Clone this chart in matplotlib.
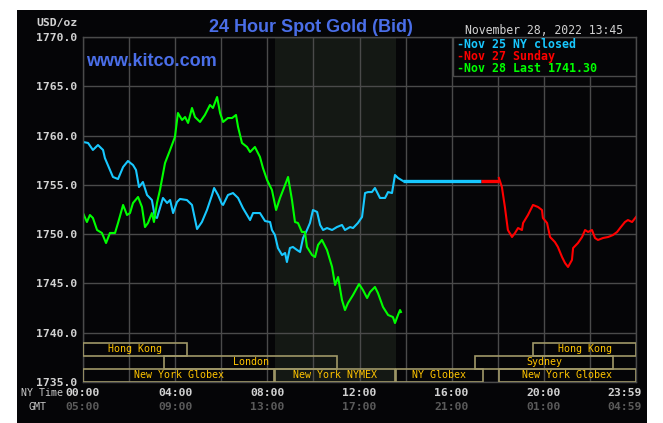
import numpy as np
import matplotlib.pyplot as plt
from matplotlib.patches import Rectangle
from matplotlib.transforms import blended_transform_factory

W, H = 663, 423

# Nov 25 (NY closed) - hours after NY midnight, price in USD/oz
nov25_hours = [0.00, 0.22, 0.43, 0.65, 0.87, 0.95, 1.17, 1.30, 1.52, 1.74, 1.95, 2.17, 2.30, 2.43,
               2.60, 2.78, 2.99, 3.12, 3.21, 3.34, 3.47, 3.65, 3.78, 3.91, 4.08, 4.21, 4.51, 4.73,
               4.95, 5.16, 5.38, 5.60, 5.69, 5.86, 6.03, 6.08, 6.29, 6.51, 6.73, 6.94, 7.25, 7.38,
               7.68, 7.90, 8.12, 8.20, 8.33, 8.46, 8.64, 8.77, 8.85, 8.98, 9.11, 9.29, 9.42, 9.55,
               9.72, 9.85, 9.98, 10.16, 10.29, 10.42, 10.59, 10.81, 11.02, 11.24, 11.37, 11.59,
               11.72, 11.93, 12.11, 12.24, 12.37, 12.54, 12.67, 12.89, 13.11, 13.24, 13.41, 13.54,
               13.67, 13.89]
nov25_price = [1759.35, 1759.25, 1758.54, 1759.04, 1758.54, 1757.72, 1756.51, 1755.80, 1755.59,
               1756.81, 1757.42, 1757.01, 1756.51, 1754.78, 1755.29, 1753.97, 1753.46, 1751.74,
               1751.64, 1752.65, 1753.67, 1753.16, 1753.46, 1752.14, 1753.26, 1753.57, 1753.46,
               1752.96, 1750.52, 1751.23, 1752.45, 1753.97, 1754.68, 1753.97, 1753.06, 1752.96,
               1753.97, 1754.17, 1753.67, 1752.65, 1751.43, 1752.14, 1752.14, 1751.33, 1751.23,
               1750.42, 1749.91, 1748.59, 1747.88, 1748.09, 1747.17, 1748.59, 1748.70, 1748.39,
               1748.19, 1749.61, 1750.42, 1751.13, 1752.45, 1752.25, 1750.93, 1750.42, 1750.62,
               1750.42, 1750.72, 1750.93, 1750.42, 1750.72, 1750.62, 1751.13, 1751.74, 1754.17,
               1754.27, 1754.27, 1754.68, 1753.67, 1753.67, 1754.27, 1754.17, 1756.00, 1755.70,
               1755.39]
nov25_close = 1755.39
nov25_flat_end = 17.27

# Nov 27 (Sunday)
nov27_hours = [18.05, 18.18, 18.31, 18.44, 18.62, 18.75, 18.88, 19.05, 19.10, 19.31, 19.53, 19.75,
               19.92, 19.96, 20.14, 20.27, 20.48, 20.61, 20.79, 20.92, 21.05, 21.22, 21.27, 21.48,
               21.66, 21.79, 21.92, 22.09, 22.22, 22.35, 22.57, 22.79, 23.00, 23.18, 23.31, 23.52,
               23.65, 23.83, 24.00]
nov27_price = [1755.70, 1754.78, 1752.75, 1750.42, 1749.71, 1750.12, 1750.62, 1750.42, 1751.13,
               1751.94, 1752.96, 1752.75, 1752.45, 1751.64, 1751.13, 1749.71, 1749.20, 1748.70,
               1747.68, 1747.07, 1746.67, 1747.38, 1748.59, 1749.10, 1749.71, 1750.42, 1750.22,
               1750.42, 1749.61, 1749.41, 1749.61, 1749.71, 1749.91, 1750.22, 1750.62, 1751.23,
               1751.43, 1751.23, 1751.74]

# Nov 28 (today)
nov28_hours = [0.00, 0.17, 0.30, 0.43, 0.61, 0.82, 1.00, 1.17, 1.39, 1.52, 1.74, 1.91, 2.04, 2.17,
               2.39, 2.56, 2.69, 2.82, 2.99, 3.08, 3.21, 3.34, 3.56, 3.78, 3.99, 4.12, 4.30, 4.43,
               4.56, 4.73, 4.86, 5.08, 5.29, 5.51, 5.64, 5.82, 5.95, 6.08, 6.29, 6.47, 6.64, 6.73,
               6.90, 7.12, 7.25, 7.46, 7.68, 7.81, 7.99, 8.20, 8.38, 8.55, 8.77, 8.90, 9.07, 9.20,
               9.33, 9.50, 9.63, 9.72, 9.94, 10.07, 10.20, 10.37, 10.59, 10.81, 10.94, 11.07, 11.24,
               11.37, 11.50, 11.72, 11.98, 12.15, 12.33, 12.46, 12.67, 12.80, 13.02, 13.24, 13.45,
               13.54, 13.67, 13.76, 13.80]
nov28_price = [1752.14, 1751.23, 1751.94, 1751.64, 1750.42, 1750.12, 1749.10, 1750.12, 1750.12,
               1751.13, 1752.96, 1751.94, 1752.14, 1753.16, 1753.77, 1752.75, 1750.72, 1751.13,
               1752.14, 1751.23, 1753.16, 1754.48, 1757.22, 1758.54, 1759.86, 1762.29, 1761.58,
               1761.88, 1761.28, 1762.80, 1761.88, 1761.38, 1762.09, 1763.10, 1762.80, 1763.91,
               1762.29, 1761.38, 1761.78, 1761.78, 1762.09, 1760.87, 1759.25, 1758.84, 1758.33,
               1758.84, 1757.83, 1756.71, 1755.49, 1754.48, 1752.45, 1753.67, 1754.99, 1755.80,
               1753.46, 1751.23, 1751.13, 1750.22, 1750.22, 1748.70, 1747.88, 1747.68, 1748.90,
               1749.41, 1748.39, 1746.67, 1744.84, 1745.65, 1743.32, 1742.30, 1743.01, 1743.83,
               1744.94, 1744.33, 1743.52, 1744.13, 1744.64, 1744.03, 1742.61, 1741.80, 1741.59,
               1740.98, 1741.80, 1742.30, 1742.10]

price_ticks = [1735, 1740, 1745, 1750, 1755, 1760, 1765, 1770]
ny_labels = ["00:00", "04:00", "08:00", "12:00", "16:00", "20:00", "23:59"]
gmt_labels = ["05:00", "09:00", "13:00", "17:00", "21:00", "01:00", "04:59"]
label_hours = [0, 4, 8, 12, 16, 20, 23.5]

legend_labels = ["-Nov 25 NY closed", "-Nov 27 Sunday", "-Nov 28 Last 1741.30"]

# trading sessions: name, start hour, end hour, row (0 = bottom)
sessions = [
    ("New York Globex", 0.0, 8.29, 0),
    ("New York NYMEX", 8.33, 13.54, 0),
    ("NY Globex", 13.58, 17.36, 0),
    ("New York Globex", 18.05, 24.0, 0),
    ("London", 3.52, 11.02, 1),
    ("Sydney", 17.01, 23.0, 1),
    ("Hong Kong", 0.0, 4.51, 2),
    ("Hong Kong", 19.53, 24.0, 2),
]
nymex_span = (8.33, 13.58)

bg = '#050507'
grid_c = '#4a4a4a'
blue = '#18c8ff'
red = '#ff0000'
green = '#00ff00'
mono = 'DejaVu Sans Mono'

fig = plt.figure(figsize=(W / 100, H / 100), dpi=100, facecolor='white')
fig.patches.append(Rectangle((17 / W, 0), 630 / W, 1 - 10 / H, transform=fig.transFigure,
                             facecolor=bg, edgecolor='none', zorder=-1))
ax = fig.add_axes([83 / W, 1 - 382 / H, 553 / W, 345 / H])
ax.set_facecolor(bg)
ax.set_xlim(0, 24)
ax.set_ylim(1735, 1770)

for s in ax.spines.values():
    s.set_color(grid_c)
    s.set_linewidth(1)

ax.set_xticks(np.arange(0, 25, 2))
ax.set_yticks(price_ticks)
ax.set_yticklabels([f"{v:.1f}" for v in price_ticks])
ax.tick_params(length=0, labelbottom=False, pad=4)
for lab in ax.get_yticklabels():
    lab.set_fontfamily(mono)
    lab.set_fontweight('bold')
    lab.set_fontsize(8.2)
    lab.set_color('#d2d2d2')
ax.set_axisbelow(True)
ax.grid(True, color=grid_c, lw=1)

ax.axvspan(*nymex_span, color='#141814', lw=0, zorder=0.2)

# legend box hides grid in the upper right corner
ax.add_patch(Rectangle((16.07, 1766.04), 24 - 16.07, 1770 - 1766.04, facecolor=bg,
                       edgecolor=grid_c, lw=1, zorder=1.5))

ax.plot(nov25_hours, nov25_price, color=blue, lw=1.5, zorder=2)
ax.plot([nov25_hours[-1], nov25_flat_end], [nov25_close, nov25_close], color=blue, lw=2.4,
        zorder=2, solid_capstyle='butt')
ax.plot([nov25_flat_end, nov27_hours[0]], [nov25_close, nov25_close], color=red, lw=2.4,
        zorder=2, solid_capstyle='butt')
ax.plot(nov27_hours, nov27_price, color=red, lw=1.5, zorder=2)
ax.plot(nov28_hours, nov28_price, color=green, lw=1.5, zorder=2)

# session boxes along the bottom
row_h = 1.32
for name, start, end, row in sessions:
    y0 = 1735 + row * row_h
    ax.add_patch(Rectangle((start, y0), end - start, row_h, fill=False, edgecolor='#a09868',
                           lw=1.2, zorder=3))
    ax.text((start + end) / 2, y0 + row_h / 2, name, ha='center', va='center', color='#ffc400',
            fontsize=7.2, family=mono, zorder=4)

# time labels under the axis
tr = blended_transform_factory(ax.transData, fig.transFigure)
for h, ny, gmt in zip(label_hours, ny_labels, gmt_labels):
    ax.text(h, 1 - 393 / H, ny, transform=tr, ha='center', va='center', color='#d2d2d2',
            fontsize=8.2, family=mono, weight='bold', clip_on=False)
    ax.text(h, 1 - 407 / H, gmt, transform=tr, ha='center', va='center', color='#5a5a5a',
            fontsize=8.2, family=mono, weight='bold', clip_on=False)
fig.text(21 / W, 1 - 393 / H, "NY Time", ha='left', va='center', color='#c8c8c8', fontsize=7.2,
         family=mono)
fig.text(29 / W, 1 - 407 / H, "GMT", ha='left', va='center', color='#c8c8c8', fontsize=7.2,
         family=mono)

fig.text(78 / W, 1 - 23 / H, "USD/oz", ha='right', va='center', color='#d2d2d2', fontsize=8.2,
         family=mono, weight='bold')
fig.text(311 / W, 1 - 32 / H, "24 Hour Spot Gold (Bid)", ha='center', va='baseline',
         color='#4a6ee8', fontsize=13, family='Liberation Sans', weight='bold')
fig.text(86 / W, 1 - 66 / H, "www.kitco.com", ha='left', va='baseline', color='#4a6ee8',
         fontsize=13, family='Liberation Sans', weight='bold')
fig.text(465 / W, 1 - 30 / H, "November 28, 2022 13:45", ha='left', va='center', color='#d2d2d2',
         fontsize=8.3, family=mono)

for i, (txt, c) in enumerate(zip(legend_labels, [blue, red, green])):
    fig.text(457 / W, 1 - (44 + i * 12.5) / H, txt, ha='left', va='center', color=c,
             fontsize=8.4, family=mono, weight='bold')

fig.savefig('out.png', dpi=100, facecolor='white')
